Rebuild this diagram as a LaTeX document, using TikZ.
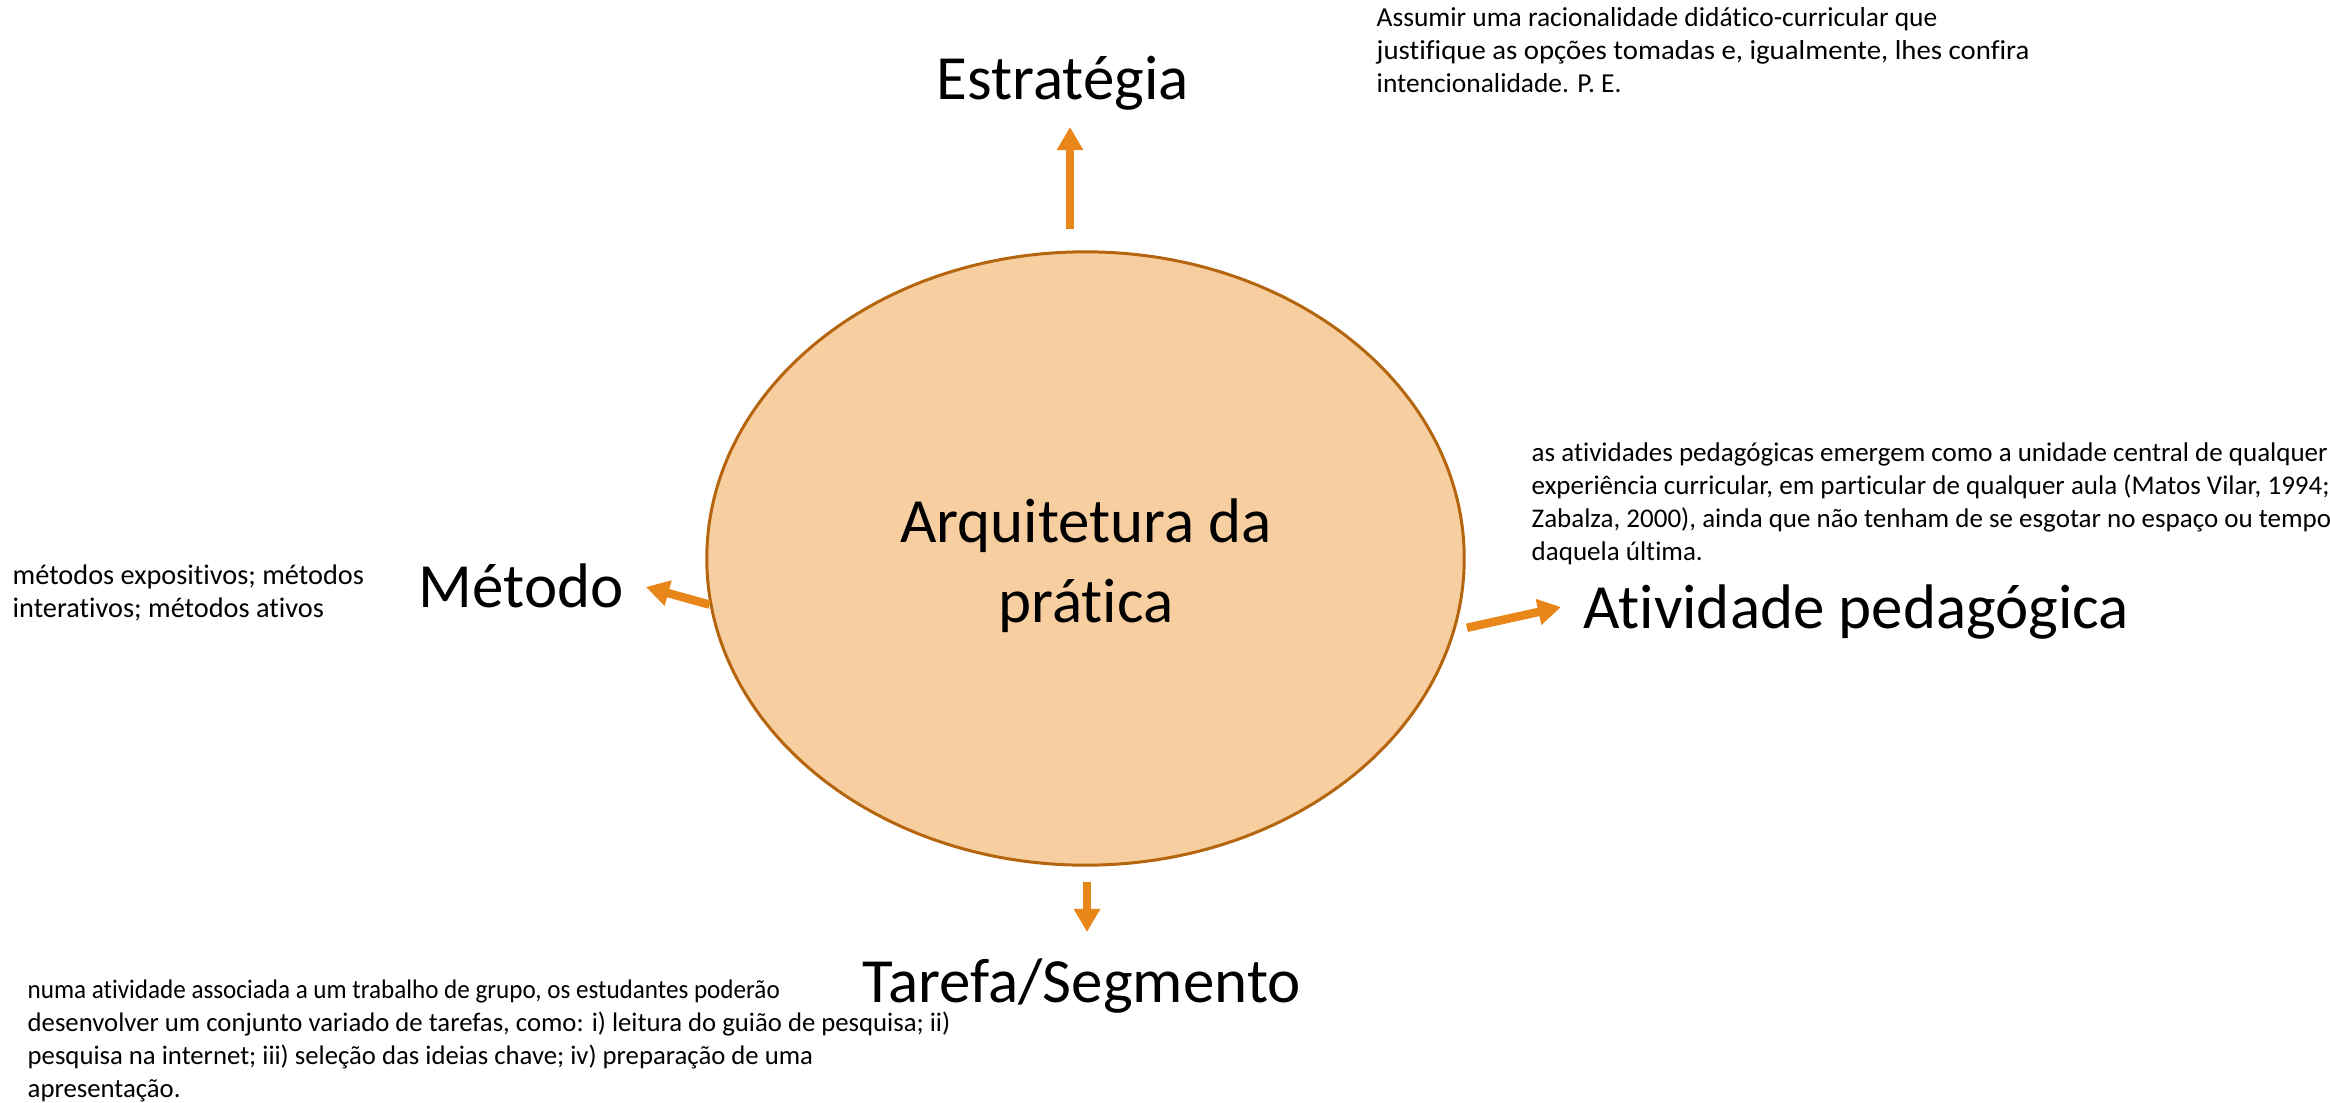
\documentclass[tikz,border=0pt]{standalone}
\usepackage{fontspec}
\setmainfont[Ligatures=NoCommon]{Carlito}
\usetikzlibrary{arrows.meta,shapes.geometric}
\colorlet{fg}{black}
\definecolor{peach}{HTML}{F7CE9F}
\definecolor{rim}{HTML}{B4650E}
\definecolor{seta}{HTML}{E8861A}
\tikzset{titulo/.style={inner sep=0pt,anchor=base west,font=\fontsize{17.9}{22.5}\selectfont}}
\tikzset{nota/.style={inner sep=0pt,anchor=base west,align=left,font=\fontsize{#1}{9.3}\selectfont},nota/.default=7.8}
\tikzset{flecha/.style={draw=seta,line width=0.085cm,-{Triangle[width=0.25cm,length=0.23cm]}}}

\begin{document}
\begin{tikzpicture}[x=0.01cm,y=-0.01cm]
	    \useasboundingbox (0,0) rectangle (2330,1103);
	    \node[ellipse,draw=rim,fill=peach,line width=0.03cm,minimum width=7.57cm,minimum height=6.13cm] (arq) at (1085.5,558.5) {};
	    % base = ultima linha
	    \node[inner sep=0pt,anchor=base,align=center,font=\fontsize{17.9}{22.5}\selectfont] (arqtxt) at (1086,622) {Arquitetura da\\prática};
	    \node[titulo] (estr) at (936,99) {Estratégia};
	    \node[titulo] (met) at (418,607) {Método};
	    \node[titulo] (atv) at (1583,628) {Atividade pedagógica};
	    \node[titulo] (tar) at (862,1002) {Tarefa/Segmento};
	    \node[nota] (estrnota) at (1376,92) {Assumir uma racionalidade didático-curricular que\\\scalebox{1.05}[1]{justifique as opções tomadas e, igualmente, lhes confira}\\intencionalidade. P. E.};
	    \node[nota=7.68] (atvnota) at (1531,560) {as atividades pedagógicas emergem como a unidade central de qualquer\\experiência curricular, em particular de qualquer aula (Matos Vilar, 1994;\\Zabalza, 2000), ainda que não tenham de se esgotar no espaço ou tempo\\daquela última.};
	    \node[nota=8.05] (metnota) at (12,617) {métodos expositivos; métodos\\interativos; métodos ativos};
	    \node[nota=7.6] (tarnota) at (27,1097) {\scalebox{0.94}[1]{numa atividade associada a um trabalho de grupo, os estudantes poderão}\\desenvolver um conjunto variado de tarefas, como: i) leitura do guião de pesquisa; ii)\\pesquisa na internet; iii) seleção das ideias chave; iv) preparação de uma\\apresentação.};
	    % pontas das setas
	    \coordinate (estrtip) at (1070,127);
	    \coordinate (mettip) at (646,587);
	    \coordinate (atvtip) at (1561,607);
	    \coordinate (tartip) at (1087,932);
	    \draw[flecha,shorten <=0.21cm] (arq.north -| estrtip) -- (estrtip);
	    \draw[flecha] (arq.187) -- (mettip);
	    \draw[flecha,shorten <=0.12cm] (arq.-11) -- (atvtip);
	    \draw[flecha,shorten <=0.15cm] (arq.south -| tartip) -- (tartip);
        \end{tikzpicture}
\end{document}
